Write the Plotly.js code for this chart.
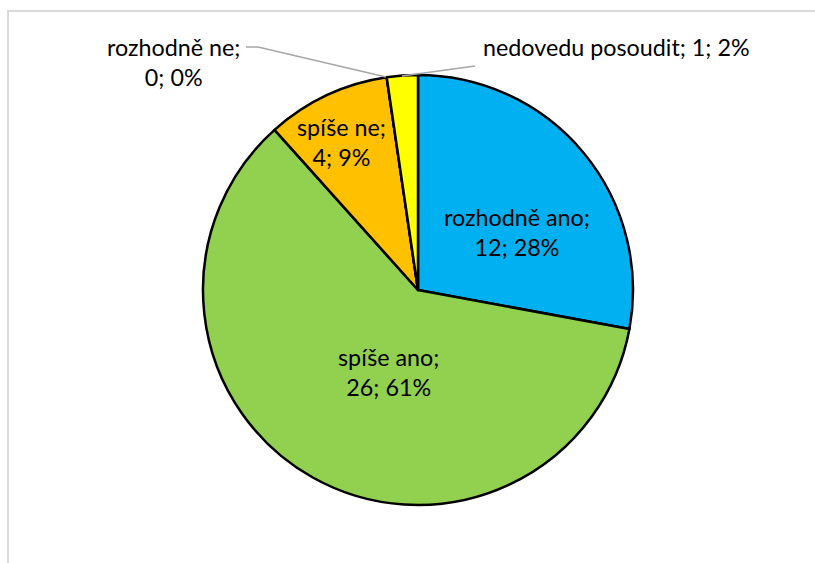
<!DOCTYPE html>
<html>
<head>
<meta charset="utf-8">
<script src="https://cdn.plot.ly/plotly-3.0.1.min.js"></script>
<style>
html,body{margin:0;padding:0;background:#fff;}
#chart{width:815px;height:563px;}
</style>
</head>
<body>
<div id="chart"></div>
<script>
// Data
const categories = ["rozhodně ano", "spíše ano", "spíše ne", "rozhodně ne", "nedovedu posoudit"];
const values = [12, 26, 4, 0, 1];
const percentLabels = [28, 61, 9, 0, 2];
const colors = ["#00B0F0", "#92D050", "#FFC000", "#C00000", "#FFFF00"];

// geometry (pixels)
const W = 815, H = 563;
const cx = 418, cy = 290, R = 215;
const mL = cx - R, mR = W - (cx + R), mT = cy - R, mB = H - (cy + R);
const px = x => (x - mL) / (2 * R);
const py = y => (cy + R - y) / (2 * R);

const FONT = "Lato, 'Open Sans', sans-serif";
const FS = 23.3;

function label(i, oneLine) {
  const sep = oneLine ? "; " : ";<br>";
  return categories[i] + sep + values[i] + "; " + percentLabels[i] + "%";
}

const trace = {
  type: "pie",
  labels: categories,
  values: values,
  sort: false,
  direction: "clockwise",
  rotation: 0,
  textinfo: "none",
  hoverinfo: "label+value+percent",
  marker: { colors: colors, line: { color: "#000000", width: 2.5 } },
  domain: { x: [0, 1], y: [0, 1] }
};

const annPos = [
  { x: 517, y: 232, one: false },
  { x: 388, y: 372, one: false },
  { x: 341, y: 142, one: false },
  { x: 173, y: 62, one: false },
  { x: 616, y: 47, one: true }
];

const annotations = annPos.map((p, i) => ({
  x: px(p.x), y: py(p.y), xref: "paper", yref: "paper",
  text: label(i, p.one), showarrow: false,
  font: { family: FONT, size: FS, color: "#000000" },
  align: "center", xanchor: "center", yanchor: "middle"
}));

const shapes = [
  // chart frame (left & top edges)
  { type: "path", xref: "paper", yref: "paper",
    path: `M ${px(8)} ${py(H + 5)} L ${px(8)} ${py(11)} L ${px(W + 5)} ${py(11)}`,
    line: { color: "#D9D9D9", width: 2 } },
  // leader line for "rozhodně ne"
  { type: "path", xref: "paper", yref: "paper",
    path: `M ${px(246)} ${py(47)} L ${px(258)} ${py(47)} L ${px(386)} ${py(77)}`,
    line: { color: "#A6A6A6", width: 1.5 } },
  // leader line for "nedovedu posoudit"
  { type: "path", xref: "paper", yref: "paper",
    path: `M ${px(402)} ${py(76)} L ${px(475)} ${py(66)}`,
    line: { color: "#A6A6A6", width: 1.5 } }
];

const layout = {
  width: W, height: H,
  margin: { l: mL, r: mR, t: mT, b: mB, pad: 0 },
  paper_bgcolor: "#ffffff",
  plot_bgcolor: "#ffffff",
  showlegend: false,
  annotations: annotations,
  shapes: shapes,
  font: { family: FONT }
};

Plotly.newPlot("chart", [trace], layout, { displayModeBar: false, staticPlot: true });
</script>
</body>
</html>
